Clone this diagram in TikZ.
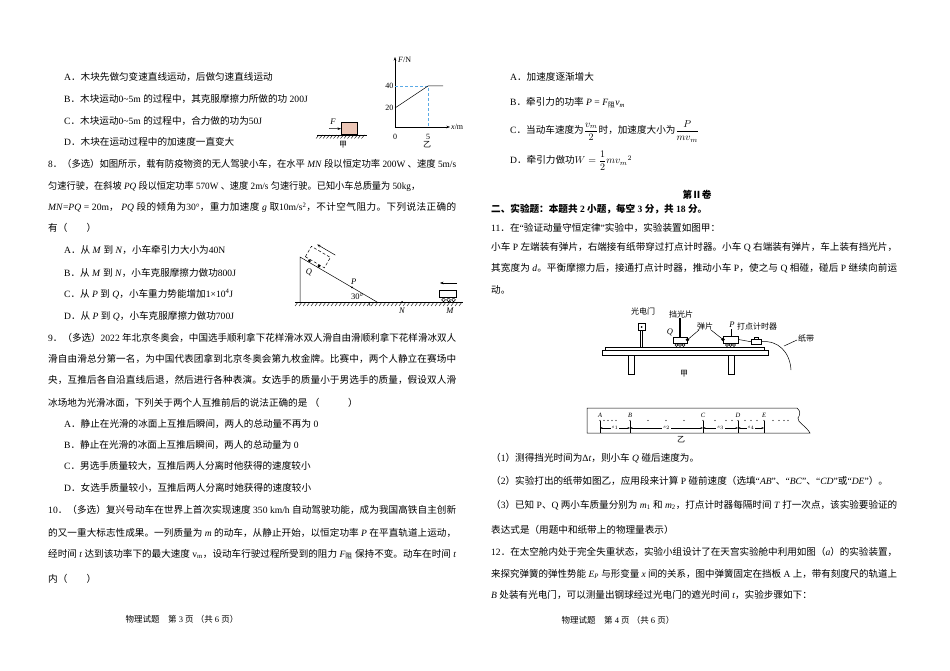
\documentclass[tikz,border=0pt]{standalone}
\usepackage{fontspec}
\usepackage{amsmath}
\usepackage{graphicx}
\usetikzlibrary{arrows.meta}
\setmainfont{Liberation Serif}
\newfontfamily\cjk{Noto Sans CJK SC}
\XeTeXinterchartokenstate=1
\newXeTeXintercharclass\CJKcls
\newcount\cjkcnt
\cjkcnt="2160
\loop\XeTeXcharclass\cjkcnt=\CJKcls\relax\ifnum\cjkcnt<"217F \advance\cjkcnt by 1 \repeat
\cjkcnt="3000
\loop\XeTeXcharclass\cjkcnt=\CJKcls\relax\ifnum\cjkcnt<"9FFF \advance\cjkcnt by 1 \repeat
\cjkcnt="FF00
\loop\XeTeXcharclass\cjkcnt=\CJKcls\relax\ifnum\cjkcnt<"FFEF \advance\cjkcnt by 1 \repeat
\XeTeXinterchartoks 0 \CJKcls={\begingroup\cjk}
\XeTeXinterchartoks 4095 \CJKcls={\begingroup\cjk}
\XeTeXinterchartoks \CJKcls 0={\endgroup}
\XeTeXinterchartoks \CJKcls 4095={\endgroup}
\XeTeXinterchartoks \CJKcls \CJKcls={\hskip0pt plus 2pt minus 0.8pt\relax}
\definecolor{blockpink}{RGB}{236,198,182}
\definecolor{guideblue}{RGB}{90,170,230}
\newsavebox\fitbox
\newcommand\fitline[2]{\sbox\fitbox{#2}\ifdim\wd\fitbox>#1\relax\resizebox{#1}{\height}{#2}\else\makebox[#1][s]{#2}\fi}
\newcommand\lfull[1]{\fitline{408pt}{#1}}
\newcommand\rfull[1]{\fitline{406pt}{#1}}
\begin{document}
\begin{tikzpicture}[x=1pt,y=-1pt,
  L/.style={anchor=base west, inner sep=0pt, font=\fontsize{9.6}{12}\selectfont},
  foot/.style={anchor=base, inner sep=0pt, font=\fontsize{8.5}{10}\selectfont},
  lbl/.style={inner sep=0pt, font=\fontsize{8}{9}\selectfont},
  tiny/.style={inner sep=0.6pt, font=\fontsize{5.5}{6}\selectfont},
  axis/.style={-{Stealth[length=3.5pt,width=2.5pt]}, line width=0.5pt},
  thin/.style={line width=0.5pt},
  hatch/.style={line width=0.4pt},
  guide/.style={densely dashed, line width=0.5pt, draw=guideblue},
  dot/.style={circle, fill, inner sep=0pt, minimum size=2pt},
]
\useasboundingbox[fill=white] (0,0) rectangle (950,671);

% ---------------- left column ----------------
\node[L] (la1) at (64,81) {A．木块先做匀变速直线运动，后做匀速直线运动};
\node[L] (la2) at (64,103) {B．木块运动0\textasciitilde5m 的过程中，其克服摩擦力所做的功 200J};
\node[L] (la3) at (64,125) {C．木块运动0\textasciitilde5m 的过程中，合力做的功为50J};
\node[L] (la4) at (64,146) {D．木块在运动过程中的加速度一直变大};

\node[L] (q8a) at (48,168) {\lfull{8．（多选）如图所示，载有防疫物资的无人驾驶小车，在水平 \textit{MN} 段以恒定功率 200W 、速度 5m/s}};
\node[L] (q8b) at (48,190) {\fitline{372pt}{匀速行驶，在斜坡 \textit{PQ} 段以恒定功率 570W 、速度 2m/s 匀速行驶。已知小车总质量为 50kg，}};
\node[L] (q8c) at (48,211) {\lfull{\textit{MN}=\textit{PQ} = 20m， \textit{PQ} 段的倾角为30°，重力加速度 \textit{g} 取10m/s\textsuperscript{2}，不计空气阻力。下列说法正确的}};
\node[L] (q8d) at (48,232) {有（　　）};
\node[L] (o8a) at (64,253) {A．从 \textit{M} 到 \textit{N}，小车牵引力大小为40N};
\node[L] (o8b) at (64,276) {B．从 \textit{M} 到 \textit{N}，小车克服摩擦力做功800J};
\node[L] (o8c) at (64,297) {C．从 \textit{P} 到 \textit{Q}，小车重力势能增加1×10\textsuperscript{4}J};
\node[L] (o8d) at (64,319) {D．从 \textit{P} 到 \textit{Q}，小车克服摩擦力做功700J};

\node[L] (q9a) at (48,341) {\lfull{9．（多选）2022 年北京冬奥会，中国选手顺利拿下花样滑冰双人滑自由滑顺利拿下花样滑冰双人}};
\node[L] (q9b) at (48,362) {\lfull{滑自由滑总分第一名，为中国代表团拿到北京冬奥会第九枚金牌。比赛中，两个人静立在赛场中}};
\node[L] (q9c) at (48,383) {\lfull{央，互推后各自沿直线后退，然后进行各种表演。女选手的质量小于男选手的质量，假设双人滑}};
\node[L] (q9d) at (48,406) {冰场地为光滑冰面，下列关于两个人互推前后的说法正确的是 （　　　）};
\node[L] (o9a) at (64,427) {A．静止在光滑的冰面上互推后瞬间，两人的总动量不再为 0};
\node[L] (o9b) at (64,448) {B．静止在光滑的冰面上互推后瞬间，两人的总动量为 0};
\node[L] (o9c) at (64,469) {C．男选手质量较大，互推后两人分离时他获得的速度较小};
\node[L] (o9d) at (64,491) {D．女选手质量较小，互推后两人分离时她获得的速度较小};

\node[L] (q10a) at (48,513) {\lfull{10．（多选）复兴号动车在世界上首次实现速度 350 km/h 自动驾驶功能，成为我国高铁自主创新}};
\node[L] (q10b) at (48,536) {\lfull{的又一重大标志性成果。一列质量为 \textit{m} 的动车，从静止开始，以恒定功率 \textit{P} 在平直轨道上运动，}};
\node[L] (q10c) at (48,557) {\lfull{经时间 \textit{t} 达到该功率下的最大速度 v\textsubscript{m}，设动车行驶过程所受到的阻力 \textit{F}\textsubscript{阻} 保持不变。动车在时间 \textit{t}}};
\node[L] (q10d) at (48,582) {内（　　）};
\node[foot] (footl) at (182,622) {物理试题　第 3 页 （共 6 页）};

% ---------------- right column ----------------
\node[L] (ra) at (510,81) {A．加速度逐渐增大};
\node[L] (rb) at (510,106) {B．牵引力的功率 \textit{P} = \textit{F}\textsubscript{阻}\textit{v}\textsubscript{\textit{m}}};
\node[L] (rc) at (510,134) {C．当动车速度为$\dfrac{v_m}{2}$时，加速度大小为$\dfrac{P}{mv_m}$};
\node[L] (rd) at (510,164) {D．牵引力做功$W=\dfrac{1}{2}mv_m{}^2$};
\node[anchor=base, inner sep=0pt, font=\fontsize{9.6}{12}\selectfont\bfseries] (juan) at (697,199) {第Ⅱ卷};
\node[L, font=\fontsize{9.6}{12}\selectfont\bfseries] (sec2) at (491,213) {二、实验题：本题共 2 小题，每空 3 分，共 18 分。};
\node[L] (q11a) at (491,232) {11．在“验证动量守恒定律”实验中，实验装置如图甲：};
\node[L] (q11b) at (491,251) {\rfull{小车 P 左端装有弹片，右端接有纸带穿过打点计时器。小车 Q 右端装有弹片，车上装有挡光片，}};
\node[L] (q11c) at (491,271) {\rfull{其宽度为 \textit{d}。平衡摩擦力后，接通打点计时器，推动小车 P，使之与 Q 相碰，碰后 P 继续向前运}};
\node[L] (q11d) at (491,293) {动。};

\node[L] (s1) at (491,461) {（1）测得挡光时间为Δ\textit{t}，则小车 \textit{Q} 碰后速度为。};
\node[L] (s2) at (491,484) {（2）实验打出的纸带如图乙，应用段来计算 P 碰前速度（选填“\textit{AB}”、“\textit{BC}”、“\textit{CD}”或“\textit{DE}”）。};
\node[L] (s3) at (491,508) {\rfull{（3）已知 P、Q 两小车质量分别为 \textit{m}\textsubscript{1} 和 \textit{m}\textsubscript{2}，打点计时器每隔时间 \textit{T} 打一次点，该实验要验证的}};
\node[L] (s3b) at (491,533) {表达式是（用题中和纸带上的物理量表示）};
\node[L] (q12a) at (491,555) {\rfull{12．在太空舱内处于完全失重状态，实验小组设计了在天宫实验舱中利用如图（\textit{a}）的实验装置，}};
\node[L] (q12b) at (491,577) {\rfull{来探究弹簧的弹性势能 \textit{E}\textsubscript{\textit{P}} 与形变量 \textit{x} 间的关系，图中弹簧固定在挡板 A 上，带有刻度尺的轨道上}};
\node[L] (q12c) at (491,598) {\textit{B} 处装有光电门，可以测量出钢球经过光电门的遮光时间 \textit{t}，实验步骤如下：};
\node[foot] (footr) at (618,623) {物理试题　第 4 页 （共 6 页）};

% ---------------- Q7 figure jia ----------------
\coordinate (g7a) at (317,135); \coordinate (g7b) at (367,135);
\draw[thin] (g7a) -- (g7b);
\foreach \x in {319,322.5,...,367} \draw[hatch] (\x,135) -- ++(-3,3.5);
\node[draw, thin, fill=blockpink, minimum width=16pt, minimum height=12pt, inner sep=0pt, anchor=south west] (blk) at (341,135) {};
\coordinate (Ftail) at (329,128.5);
\draw[axis] (Ftail) -- (blk.west);
\node[lbl, font=\fontsize{8.5}{9}\selectfont\itshape] (Flab) at (333,121.5) {F};
\node[lbl] (jia7) at (343,145) {甲};

% ---------------- Q7 figure yi (graph) ----------------
\coordinate (O) at (395,127);
\coordinate (ytip) at (395,57);
\coordinate (xtip) at (450,127);
\draw[axis] (O) -- (ytip);
\draw[axis] (O) -- (xtip);
\node[lbl, anchor=west] (FN) at (398,60) {\textit{F}/N};
\node[lbl, anchor=west] (xm) at (451,127) {\textit{x}/m};
\coordinate (p20) at (395,108);
\coordinate (p40) at (428,86);
\coordinate (p40y) at (395,86);
\coordinate (p5x) at (428,127);
\coordinate (pend) at (443,86);
\draw[guide] (p40y) -- (p40) -- (p5x);
\draw[thin] (p20) -- (p40) -- (pend);
\node[lbl, anchor=east] (t40) at (393.5,86) {40};
\node[lbl, anchor=east] (t20) at (393.5,108) {20};
\node[lbl] (t0) at (395,136.5) {0};
\node[lbl] (t5) at (428,136.5) {5};
\node[lbl] (yi7) at (427,145) {乙};

% ---------------- Q8 figure ----------------
\coordinate (gl) at (295,302); \coordinate (gr) at (463,302);
\draw[thin] (gl) -- (gr);
\foreach \x in {298,302,...,463} \draw[hatch] (\x,302) -- ++(-3,4);
\coordinate (wallb) at (300,302);
\coordinate (top) at (300,257);
\coordinate (bot) at (377,302);
\draw[thin] (wallb) -- (top) -- (bot);
\begin{scope}[shift={(303,258.8)}, rotate=-30.3]
  \draw[densely dashed, thin] (1,-3) rectangle (23,-15);
  \fill (6.5,-1.6) circle (1.6);
  \fill (17.5,-1.6) circle (1.6);
  \draw[-{Stealth[length=3.5pt]}, thin] (26,-19.5) -- (5,-19.5);
\end{scope}
\node[lbl, font=\fontsize{8.5}{9}\selectfont\itshape] (Qlab) at (309,272) {Q};
\node[dot] (Pdot) at (352,287.4) {};
\node[lbl, font=\fontsize{8.5}{9}\selectfont\itshape, anchor=south west] (Plab) at (351,285) {P};
\draw[thin] (369,302) arc[start angle=180, end angle=149.7, radius=8];
\node[lbl, font=\fontsize{8.5}{9}\selectfont] (ang) at (357,297) {30°};
\node[dot] (Ndot) at (402,302) {};
\node[lbl, font=\fontsize{8.5}{9}\selectfont\itshape] (Nlab) at (402,311) {N};
\node[dot] (Mdot) at (450,302) {};
\node[lbl, font=\fontsize{8.5}{9}\selectfont\itshape] (Mlab) at (450,311) {M};
\node[draw, thin, minimum width=17pt, minimum height=7.5pt, inner sep=0pt, anchor=south west] (cartM) at (439,297.5) {};
\foreach \x in {443.5,448.5,453.5} \draw[thin, fill=white] (\x,299.8) circle (1.9);
\coordinate (arMa) at (457,283); \coordinate (arMb) at (440,283);
\draw[-{Stealth[length=3.5pt]}, thin] (arMa) -- (arMb);

% ---------------- Q11 figure jia ----------------
\node[draw, thin, minimum size=7pt, inner sep=0pt] (gate) at (641.5,327) {};
\fill (gate.center) circle (1);
\draw[thin] (640.6,330.5) rectangle (642.4,347);
\node[draw, thin, minimum width=159pt, minimum height=3pt, inner sep=0pt, anchor=south west] (rail) at (605,350) {};
\node[draw, thin, minimum width=166pt, minimum height=5pt, inner sep=0pt, anchor=north west] (board) at (602,350) {};
\draw[thin] (628,355) rectangle (634,374);
\draw[thin] (728,355) rectangle (734,374);
% cart Q
\node[draw, thin, minimum width=14pt, minimum height=6pt, inner sep=0pt, anchor=south west] (cartQ) at (673,343) {};
\foreach \x in {676.5,680,683.5} \draw[thin] (\x,345) circle (1.5);
\draw[line width=2pt] (680,318) -- (cartQ.north -| 680,0);
\fill (cartQ.east) circle (1.8);
% cart P
\node[draw, thin, minimum width=15pt, minimum height=6.5pt, inner sep=0pt, anchor=south west] (cartP) at (723,343) {};
\foreach \x in {727,730.5,734} \draw[thin] (\x,345) circle (1.5);
\fill (cartP.west) circle (1.8);
% timer
\node[draw, thin, minimum width=10pt, minimum height=5pt, inner sep=0pt, anchor=south west] (timer) at (751,344.5) {};
\draw[thin] (754,339.5) rectangle (758,337.5);
\draw[thin] (cartP.east) -- (timer.west);
\coordinate (tapeend) at (791,370);
\draw[thin] (timer.east) .. controls (778,340) and (790,352) .. (tapeend);
% labels
\node[lbl] (lgate) at (643,311) {光电门};
\node[lbl] (lflag) at (681,314) {挡光片};
\node[lbl, font=\fontsize{8.5}{9}\selectfont\itshape] (lQ) at (670,332) {Q};
\node[lbl] (lspring) at (705,326) {弹片};
\draw[thin] (699,330) -- (cartQ.east);
\draw[thin] (711,330) -- (cartP.west);
\node[lbl, font=\fontsize{8.5}{9}\selectfont\itshape] (lP) at (732,325) {P};
\draw[thin] (731,329) -- (731,336.5);
\node[lbl] (ltimer) at (757,326) {打点计时器};
\node[lbl] (ltape) at (806,338) {纸带};
\coordinate (tapept) at (784,346);
\draw[thin] (797,340) -- (tapept);
\node[lbl] (jia11) at (684,374) {甲};

% ---------------- Q11 figure yi (tape) ----------------
\draw[thin] (587,408) -- (797,408) .. controls (801,411) and (800,415) .. (798,418)
  .. controls (797,422) and (806,426) .. (810,433) -- (587,433) -- cycle;
\foreach \n/\x in {A/600,B/630,C/703,D/738,E/764} {
  \node[tiny, font=\fontsize{6.5}{7}\selectfont\itshape] (l\n) at (\x,415) {\n};
  \fill (\x,420.5) circle (0.6);
  \coordinate (t\n) at (\x,428);
  \draw[line width=0.4pt] (\x,421) -- (\x,433);
}
\foreach \x in {604,608,612,616,648,666,684,715,726,732,745,751,757,773,779,784,788}
  \fill (\x,420.5) circle (0.6);
\foreach \a/\b/\s in {A/B/1,B/C/2,C/D/3,D/E/4}
  \draw[{Stealth[length=2.5pt]}-{Stealth[length=2.5pt]}, line width=0.4pt] (t\a) -- node[tiny, fill=white] {$s_{\s}$} (t\b);
\node[lbl] (yi11) at (681,440) {乙};
\end{tikzpicture}
\end{document}
